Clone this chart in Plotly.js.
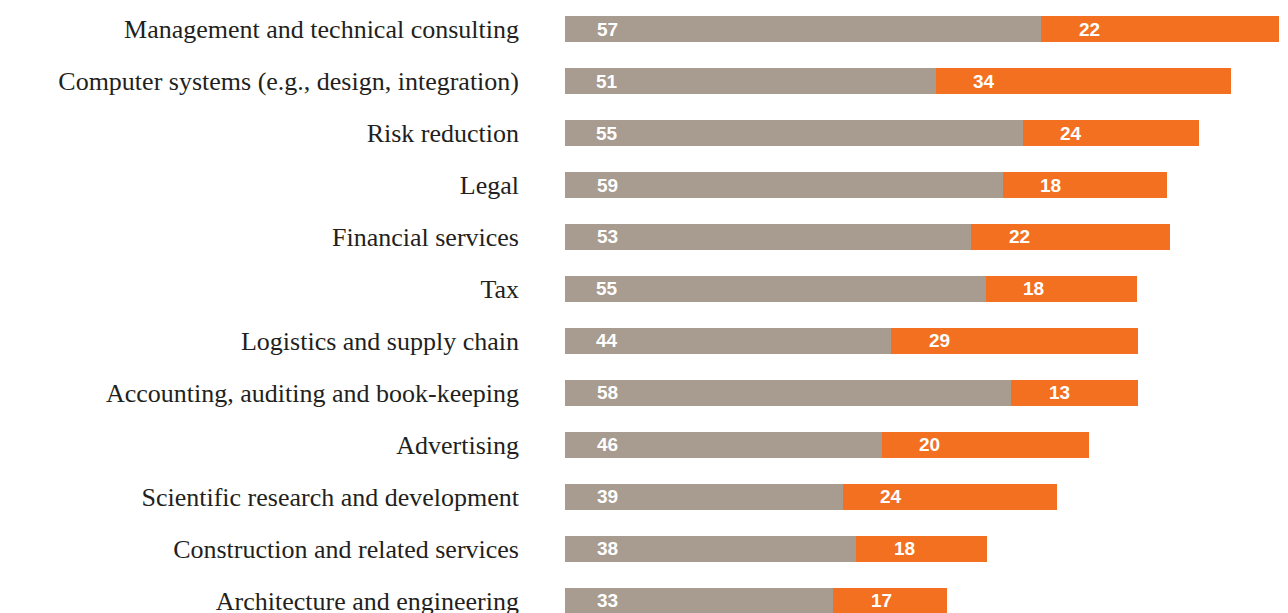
<!DOCTYPE html>
<html>
<head>
<meta charset="utf-8">
<script src="https://cdn.plot.ly/plotly-3.0.1.min.js"></script>
<style>html,body{margin:0;padding:0;background:#fff;}#chart{width:1288px;height:613px;}</style>
</head>
<body>
<div id="chart"></div>
<script>
// Categories (top to bottom)
const categories = [
  "Management and technical consulting",
  "Computer systems (e.g., design, integration)",
  "Risk reduction",
  "Legal",
  "Financial services",
  "Tax",
  "Logistics and supply chain",
  "Accounting, auditing and book-keeping",
  "Advertising",
  "Scientific research and development",
  "Construction and related services",
  "Architecture and engineering"
];
// Printed values
const greyLabels   = [57, 51, 55, 59, 53, 55, 44, 58, 46, 39, 38, 33];
const orangeLabels = [22, 34, 24, 18, 22, 18, 29, 13, 20, 24, 18, 17];
// Bar lengths as drawn in the picture (estimated, chart units)
const greyBars   = [59.5, 46.4, 57.2, 54.7, 50.8, 52.6, 40.8, 55.8, 39.6, 34.8, 36.4, 33.5];
const orangeBars = [29.7, 36.9, 22.0, 20.5, 24.8, 18.9, 30.8, 15.8, 25.9, 26.7, 16.3, 14.3];

const GREY = '#a89b90';
const ORANGE = '#f37021';

const traces = [
  {type:'bar', orientation:'h', y:categories, x:greyBars, marker:{color:GREY, line:{width:0}}, hoverinfo:'skip'},
  {type:'bar', orientation:'h', y:categories, x:orangeBars, marker:{color:ORANGE, line:{width:0}}, hoverinfo:'skip'}
];

const numFont = {family:'"Liberation Sans", Arial, sans-serif', size:19, color:'#ffffff'};
const annotations = [];
categories.forEach((c, i) => {
  annotations.push({x:0, y:c, xref:'x', yref:'y', text:'<b>'+greyLabels[i]+'</b>', showarrow:false,
    xanchor:'center', yanchor:'middle', xshift:42, font:numFont});
  annotations.push({x:greyBars[i], y:c, xref:'x', yref:'y', text:'<b>'+orangeLabels[i]+'</b>', showarrow:false,
    xanchor:'center', yanchor:'middle', xshift:48, font:numFont});
});

const layout = {
  width:1288, height:613,
  margin:{l:565, r:3, t:0, b:0, pad:0},
  paper_bgcolor:'#ffffff', plot_bgcolor:'#ffffff',
  barmode:'stack', bargap:0.5,
  showlegend:false,
  xaxis:{range:[0,90], visible:false, fixedrange:true},
  yaxis:{type:'category', range:[11.238, -0.562], showgrid:false, zeroline:false, showline:false,
    ticks:'', ticklabelstandoff:45,
    tickfont:{family:'"Liberation Serif", "Times New Roman", serif', size:26, color:'#231f20'}},
  annotations:annotations
};

Plotly.newPlot('chart', traces, layout, {displayModeBar:false, staticPlot:true});
</script>
</body>
</html>
